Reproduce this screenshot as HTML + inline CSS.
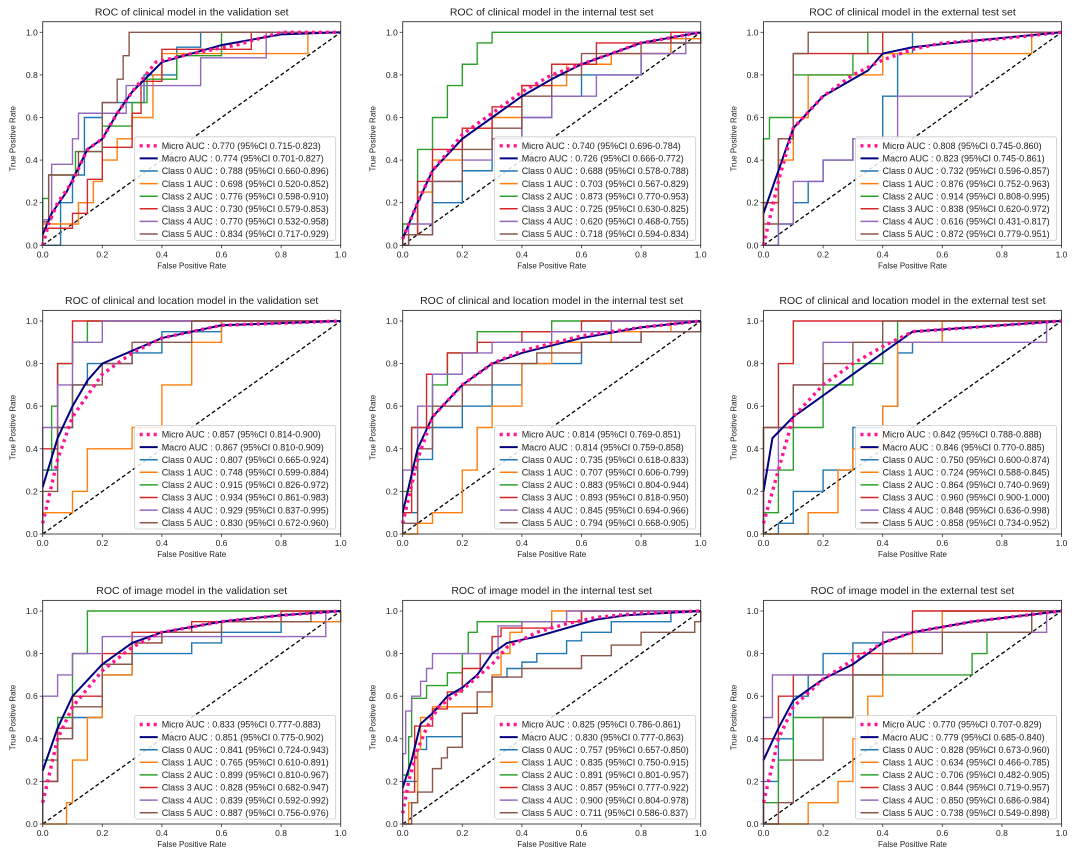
<!DOCTYPE html>
<html><head><meta charset="utf-8">
<style>
html,body{margin:0;padding:0;background:#fff;}
svg{display:block;font-family:"Liberation Sans","DejaVu Sans",sans-serif;}
</style></head>
<body>
<svg id="fig" width="1080" height="855" viewBox="0 0 1080 855" xmlns="http://www.w3.org/2000/svg"></svg>
<script>
const titles = [
 "ROC of clinical model in the validation set","ROC of clinical model in the internal test set","ROC of clinical model in the external test set",
 "ROC of clinical and location model in the validation set","ROC of  clinical and location model in the internal test set","ROC of  clinical and location model in the external test set",
 "ROC of image model in the validation set","ROC of image model in the internal test set","ROC of image model in the external test set"];
const seriesNames = ["Micro","Macro","Class 0","Class 1","Class 2","Class 3","Class 4","Class 5"];
const aucLabels = [
 ["0.770 (95%CI 0.715-0.823)","0.774 (95%CI 0.701-0.827)","0.788 (95%CI 0.660-0.896)","0.698 (95%CI 0.520-0.852)","0.776 (95%CI 0.598-0.910)","0.730 (95%CI 0.579-0.853)","0.770 (95%CI 0.532-0.958)","0.834 (95%CI 0.717-0.929)"],
 ["0.740 (95%CI 0.696-0.784)","0.726 (95%CI 0.666-0.772)","0.688 (95%CI 0.578-0.788)","0.703 (95%CI 0.567-0.829)","0.873 (95%CI 0.770-0.953)","0.725 (95%CI 0.630-0.825)","0.620 (95%CI 0.468-0.755)","0.718 (95%CI 0.594-0.834)"],
 ["0.808 (95%CI 0.745-0.860)","0.823 (95%CI 0.745-0.861)","0.732 (95%CI 0.596-0.857)","0.876 (95%CI 0.752-0.963)","0.914 (95%CI 0.808-0.995)","0.838 (95%CI 0.620-0.972)","0.616 (95%CI 0.431-0.817)","0.872 (95%CI 0.779-0.951)"],
 ["0.857 (95%CI 0.814-0.900)","0.867 (95%CI 0.810-0.909)","0.807 (95%CI 0.665-0.924)","0.748 (95%CI 0.599-0.884)","0.915 (95%CI 0.826-0.972)","0.934 (95%CI 0.861-0.983)","0.929 (95%CI 0.837-0.995)","0.830 (95%CI 0.672-0.960)"],
 ["0.814 (95%CI 0.769-0.851)","0.814 (95%CI 0.759-0.858)","0.735 (95%CI 0.618-0.833)","0.707 (95%CI 0.606-0.799)","0.883 (95%CI 0.804-0.944)","0.893 (95%CI 0.818-0.950)","0.845 (95%CI 0.694-0.966)","0.794 (95%CI 0.668-0.905)"],
 ["0.842 (95%CI 0.788-0.888)","0.846 (95%CI 0.770-0.885)","0.750 (95%CI 0.600-0.874)","0.724 (95%CI 0.588-0.845)","0.864 (95%CI 0.740-0.969)","0.960 (95%CI 0.900-1.000)","0.848 (95%CI 0.636-0.998)","0.858 (95%CI 0.734-0.952)"],
 ["0.833 (95%CI 0.777-0.883)","0.851 (95%CI 0.775-0.902)","0.841 (95%CI 0.724-0.943)","0.765 (95%CI 0.610-0.891)","0.899 (95%CI 0.810-0.967)","0.828 (95%CI 0.682-0.947)","0.839 (95%CI 0.592-0.992)","0.887 (95%CI 0.756-0.976)"],
 ["0.825 (95%CI 0.786-0.861)","0.830 (95%CI 0.777-0.863)","0.757 (95%CI 0.657-0.850)","0.835 (95%CI 0.750-0.915)","0.891 (95%CI 0.801-0.957)","0.857 (95%CI 0.777-0.922)","0.900 (95%CI 0.804-0.978)","0.711 (95%CI 0.586-0.837)"],
 ["0.770 (95%CI 0.707-0.829)","0.779 (95%CI 0.685-0.840)","0.828 (95%CI 0.673-0.960)","0.634 (95%CI 0.466-0.785)","0.706 (95%CI 0.482-0.905)","0.844 (95%CI 0.719-0.957)","0.850 (95%CI 0.686-0.984)","0.738 (95%CI 0.549-0.898)"]];
const tickLabels = ["0.0","0.2","0.4","0.6","0.8","1.0"];
const micro = [
 [[0,0],[0.02,0.1],[0.05,0.2],[0.1,0.3],[0.15,0.45],[0.2,0.5],[0.25,0.62],[0.3,0.72],[0.38,0.86],[0.5,0.9],[0.65,0.94],[0.8,1],[1,1]],
 [[0,0.03],[0.05,0.2],[0.1,0.35],[0.2,0.52],[0.3,0.62],[0.4,0.72],[0.5,0.8],[0.6,0.85],[0.8,0.95],[1,1]],
 [[0,0],[0.05,0.3],[0.1,0.55],[0.2,0.7],[0.3,0.8],[0.4,0.87],[0.5,0.92],[0.6,0.95],[0.8,0.97],[1,1]],
 [[0,0.05],[0.05,0.35],[0.1,0.55],[0.2,0.75],[0.3,0.85],[0.4,0.92],[0.6,0.98],[1,1]],
 [[0,0.05],[0.05,0.35],[0.1,0.55],[0.2,0.7],[0.3,0.8],[0.4,0.86],[0.6,0.93],[0.8,0.97],[1,1]],
 [[0,0.05],[0.05,0.3],[0.1,0.55],[0.2,0.7],[0.3,0.8],[0.4,0.88],[0.5,0.95],[1,1]],
 [[0,0.1],[0.05,0.4],[0.1,0.55],[0.2,0.72],[0.3,0.83],[0.4,0.9],[0.6,0.95],[0.8,0.98],[1,1]],
 [[0,0.05],[0.02,0.2],[0.05,0.35],[0.08,0.45],[0.12,0.55],[0.2,0.63],[0.3,0.75],[0.35,0.83],[0.45,0.9],[0.55,0.94],[0.65,0.97],[0.8,0.99],[1,1]],
 [[0,0.1],[0.05,0.4],[0.1,0.55],[0.2,0.68],[0.3,0.77],[0.4,0.85],[0.5,0.9],[0.7,0.95],[1,1]]];
const macro = [
 [[0,0.05],[0.03,0.15],[0.08,0.25],[0.15,0.45],[0.2,0.5],[0.25,0.62],[0.3,0.72],[0.4,0.86],[0.5,0.9],[0.6,0.94],[0.8,0.99],[1,1]],
 [[0,0.03],[0.05,0.2],[0.1,0.35],[0.2,0.5],[0.3,0.6],[0.4,0.7],[0.5,0.78],[0.6,0.85],[0.8,0.95],[1,1]],
 [[0,0.15],[0.05,0.35],[0.1,0.55],[0.2,0.7],[0.3,0.78],[0.35,0.82],[0.4,0.9],[0.5,0.93],[0.7,0.96],[1,1]],
 [[0,0.22],[0.05,0.45],[0.1,0.6],[0.15,0.72],[0.2,0.8],[0.3,0.86],[0.4,0.92],[0.6,0.98],[1,1]],
 [[0,0.1],[0.05,0.4],[0.1,0.55],[0.2,0.7],[0.3,0.8],[0.4,0.85],[0.6,0.92],[0.8,0.97],[1,1]],
 [[0,0.2],[0.03,0.45],[0.1,0.55],[0.2,0.65],[0.3,0.75],[0.4,0.85],[0.5,0.95],[1,1]],
 [[0,0.25],[0.05,0.45],[0.1,0.6],[0.2,0.75],[0.3,0.85],[0.4,0.9],[0.6,0.95],[0.8,0.98],[1,1]],
 [[0,0.17],[0.03,0.3],[0.06,0.47],[0.1,0.52],[0.15,0.6],[0.2,0.64],[0.25,0.7],[0.3,0.8],[0.35,0.85],[0.45,0.88],[0.55,0.92],[0.65,0.96],[0.75,0.98],[1,1]],
 [[0,0.3],[0.05,0.45],[0.1,0.58],[0.2,0.68],[0.3,0.75],[0.4,0.85],[0.5,0.9],[0.7,0.95],[1,1]]];
const classCurves = [
 [[[0.06,0],[0.06,0.2],[0.1,0.33],[0.14,0.6],[0.2,0.67],[0.3,0.67],[0.34,0.8],[0.45,0.93],[0.53,1],[1,1]],
  [[0,0.1],[0.12,0.2],[0.17,0.3],[0.2,0.4],[0.25,0.5],[0.3,0.6],[0.37,0.8],[0.4,0.9],[0.89,1],[1,1]],
  [[0,0.22],[0.02,0.33],[0.11,0.44],[0.2,0.56],[0.3,0.67],[0.35,0.78],[0.45,0.89],[0.6,1],[1,1]],
  [[0,0.08],[0.1,0.15],[0.15,0.31],[0.2,0.46],[0.3,0.62],[0.33,0.77],[0.4,0.92],[0.7,1],[1,1]],
  [[0,0.12],[0.03,0.38],[0.1,0.5],[0.12,0.62],[0.2,0.62],[0.28,0.75],[0.53,0.88],[0.75,1],[1,1]],
  [[0,0.11],[0.02,0.33],[0.12,0.44],[0.2,0.67],[0.25,0.78],[0.27,0.89],[0.29,1],[1,1]]],
 [[[0.02,0.05],[0.1,0.2],[0.2,0.35],[0.3,0.5],[0.4,0.6],[0.5,0.7],[0.6,0.8],[0.8,0.9],[0.9,0.95],[1,1]],
  [[0,0.05],[0.05,0.25],[0.1,0.4],[0.2,0.55],[0.3,0.6],[0.4,0.75],[0.55,0.85],[0.7,0.9],[0.9,0.97],[1,1]],
  [[0,0.1],[0.05,0.45],[0.1,0.6],[0.15,0.75],[0.2,0.85],[0.25,0.95],[0.3,1],[1,1]],
  [[0,0.05],[0.05,0.3],[0.1,0.45],[0.2,0.55],[0.3,0.65],[0.4,0.75],[0.5,0.85],[0.65,0.95],[0.9,1],[1,1]],
  [[0.02,0.1],[0.1,0.3],[0.2,0.4],[0.3,0.5],[0.4,0.6],[0.5,0.7],[0.65,0.8],[0.8,0.9],[0.95,1],[1,1]],
  [[0.02,0.05],[0.1,0.3],[0.2,0.45],[0.3,0.55],[0.4,0.7],[0.5,0.8],[0.6,0.9],[0.8,0.95],[1,1]]],
 [[[0.05,0.1],[0.1,0.2],[0.15,0.3],[0.2,0.4],[0.3,0.5],[0.4,0.7],[0.45,0.9],[0.5,1],[1,1]],
  [[0,0.2],[0.05,0.4],[0.1,0.6],[0.15,0.8],[0.4,0.9],[0.9,1],[1,1]],
  [[0,0.5],[0.02,0.6],[0.1,0.8],[0.3,0.9],[0.35,1],[1,1]],
  [[0,0.2],[0.05,0.5],[0.1,0.9],[0.4,1],[1,1]],
  [[0.05,0.1],[0.1,0.3],[0.2,0.4],[0.3,0.5],[0.45,0.7],[0.7,1],[1,1]],
  [[0,0.1],[0.05,0.5],[0.1,0.9],[0.15,1],[1,1]]],
 [[[0,0.3],[0.05,0.5],[0.1,0.7],[0.15,0.8],[0.3,0.85],[0.4,0.95],[0.6,1],[1,1]],
  [[0,0.1],[0.1,0.2],[0.15,0.4],[0.3,0.5],[0.4,0.7],[0.5,0.9],[0.6,1],[1,1]],
  [[0,0.3],[0.03,0.6],[0.05,0.8],[0.1,0.9],[0.15,1],[1,1]],
  [[0,0.4],[0.05,0.8],[0.1,1],[1,1]],
  [[0,0.5],[0.05,0.7],[0.1,0.9],[0.2,1],[1,1]],
  [[0,0.2],[0.05,0.5],[0.1,0.7],[0.2,0.8],[0.3,0.9],[0.5,1],[1,1]]],
 [[[0,0.1],[0.05,0.35],[0.1,0.5],[0.2,0.6],[0.3,0.7],[0.4,0.8],[0.6,0.9],[0.8,0.95],[1,1]],
  [[0.05,0.05],[0.1,0.1],[0.2,0.3],[0.25,0.5],[0.3,0.6],[0.4,0.8],[0.5,0.9],[0.7,0.95],[0.9,1],[1,1]],
  [[0,0.2],[0.03,0.5],[0.1,0.7],[0.15,0.85],[0.25,0.95],[0.5,1],[1,1]],
  [[0,0.1],[0.03,0.5],[0.08,0.75],[0.15,0.85],[0.25,0.9],[0.4,0.95],[0.6,1],[1,1]],
  [[0,0.3],[0.05,0.6],[0.1,0.75],[0.2,0.85],[0.3,0.9],[0.5,0.95],[0.7,1],[1,1]],
  [[0,0.05],[0.05,0.4],[0.1,0.6],[0.2,0.7],[0.3,0.8],[0.45,0.85],[0.6,0.9],[0.8,0.95],[1,1]]],
 [[[0.05,0.05],[0.1,0.2],[0.2,0.3],[0.3,0.5],[0.4,0.6],[0.45,0.85],[0.5,0.9],[0.6,1],[1,1]],
  [[0.1,0],[0.15,0.1],[0.25,0.3],[0.3,0.4],[0.4,0.6],[0.45,0.9],[0.6,1],[1,1]],
  [[0,0.1],[0.05,0.3],[0.1,0.5],[0.2,0.7],[0.3,0.8],[0.4,0.9],[0.45,1],[1,1]],
  [[0,0.5],[0.05,0.8],[0.1,1],[1,1]],
  [[0,0.3],[0.05,0.5],[0.1,0.7],[0.2,0.9],[0.95,1],[1,1]],
  [[0,0.5],[0.1,0.7],[0.2,0.8],[0.3,0.9],[0.4,1],[1,1]]],
 [[[0,0.2],[0.05,0.4],[0.1,0.5],[0.2,0.7],[0.3,0.8],[0.5,0.85],[0.6,0.9],[0.8,0.95],[1,1]],
  [[0.05,0],[0.08,0.1],[0.1,0.3],[0.15,0.5],[0.2,0.7],[0.3,0.85],[0.4,0.9],[0.6,0.95],[1,1]],
  [[0,0.3],[0.05,0.5],[0.1,0.8],[0.15,1],[1,1]],
  [[0,0.2],[0.05,0.45],[0.1,0.6],[0.2,0.8],[0.3,0.9],[0.5,0.95],[0.8,1],[1,1]],
  [[0,0.6],[0.05,0.7],[0.1,0.8],[0.2,0.88],[0.95,1],[1,1]],
  [[0,0.2],[0.05,0.4],[0.1,0.55],[0.2,0.75],[0.3,0.85],[0.4,0.9],[0.6,0.95],[0.9,1],[1,1]]],
 [[[0,0.2],[0.05,0.35],[0.08,0.41],[0.2,0.52],[0.25,0.55],[0.3,0.69],[0.35,0.73],[0.4,0.76],[0.45,0.8],[0.55,0.86],[0.6,0.9],[0.7,0.95],[0.9,1],[1,1]],
  [[0.02,0.1],[0.05,0.35],[0.06,0.5],[0.1,0.55],[0.25,0.55],[0.3,0.7],[0.33,0.8],[0.36,0.9],[0.4,0.95],[0.5,1],[1,1]],
  [[0,0.23],[0.02,0.41],[0.03,0.59],[0.08,0.65],[0.15,0.71],[0.2,0.8],[0.22,0.9],[0.25,0.95],[0.6,1],[1,1]],
  [[0,0.15],[0.04,0.46],[0.1,0.54],[0.15,0.62],[0.2,0.73],[0.26,0.8],[0.3,0.88],[0.33,0.92],[0.5,0.95],[0.6,1],[1,1]],
  [[0,0.33],[0.01,0.53],[0.03,0.6],[0.06,0.67],[0.08,0.73],[0.1,0.8],[0.32,0.93],[0.4,0.95],[0.55,1],[1,1]],
  [[0.03,0.1],[0.05,0.15],[0.1,0.26],[0.13,0.31],[0.15,0.36],[0.2,0.52],[0.25,0.62],[0.3,0.69],[0.4,0.73],[0.6,0.79],[0.7,0.84],[0.8,0.9],[0.98,0.95],[1,1]]],
 [[[0,0.2],[0.05,0.4],[0.1,0.6],[0.15,0.7],[0.2,0.8],[0.3,0.85],[0.4,0.9],[0.6,1],[1,1]],
  [[0.1,0],[0.15,0.1],[0.25,0.2],[0.3,0.4],[0.35,0.6],[0.4,0.8],[0.5,0.9],[0.6,1],[1,1]],
  [[0,0.1],[0.05,0.3],[0.1,0.5],[0.3,0.7],[0.7,0.8],[0.75,0.9],[0.9,1],[1,1]],
  [[0,0.4],[0.05,0.6],[0.1,0.7],[0.3,0.8],[0.4,0.9],[0.5,1],[1,1]],
  [[0,0.5],[0.03,0.7],[0.4,0.9],[0.95,1],[1,1]],
  [[0.05,0.1],[0.1,0.3],[0.2,0.5],[0.3,0.7],[0.4,0.8],[0.6,0.9],[0.9,1],[1,1]]]];

const classColors = ["#1f77b4","#ff7f0e","#2ca02c","#d62728","#9467bd","#8c564b"];
const NS = "http://www.w3.org/2000/svg";
const svg = document.getElementById("fig");
const colX = [42.7, 402.7, 763.5], rowY = [32.3, 321, 611], W = 298, H = 213;
function mk(tag, attrs, parent){const e=document.createElementNS(NS,tag);for(const k in attrs)e.setAttribute(k,attrs[k]);parent.appendChild(e);return e;}

for (let p = 0; p < 9; p++) {
  const x0 = colX[p % 3], y1 = rowY[Math.floor(p / 3)], y0 = y1 + H;
  const sx = v => x0 + v * W, sy = v => y0 - v * H;
  const g = mk("g", {}, svg);
  
  
  const t = mk("text", {x: x0 + W / 2, y: y1 - 17, "text-anchor": "middle", "font-size": "10.5", fill: "#222"}, g);
  t.textContent = titles[p];
  
  
  const d = mk("line", {x1: sx(0), y1: sy(0), x2: sx(1), y2: sy(1), stroke: "#000", "stroke-width": 1.3, "stroke-dasharray": "4,2.5"}, g);
  
  
  classCurves[p].forEach((pts, c) => {
    let dd = "M" + sx(0) + "," + sy(0);
    pts.forEach(([fx, ty]) => { dd += " H" + sx(fx) + " V" + sy(ty); });
    const path = mk("path", {d: dd, fill: "none", stroke: classColors[c], "stroke-width": 1.4}, g);
    
    
  });
  const lineStr = pts => pts.map(([fx, ty]) => sx(fx) + "," + sy(ty)).join(" ");
  const mac = mk("polyline", {points: lineStr(macro[p]), fill: "none", stroke: "#000080", "stroke-width": 2}, g);
  
  
  const mic = mk("polyline", {points: lineStr(micro[p]), fill: "none", stroke: "#ff1493", "stroke-width": 3.4, "stroke-dasharray": "3,4"}, g);
  
  
  const fr = mk("rect", {x: x0, y: y1 - 10.6, width: W, height: H + 10.6, fill: "none", stroke: "#333", "stroke-width": 0.9}, g);
  
  
  tickLabels.forEach((lab, i) => {
    const v = i / 5;
    mk("line", {x1: sx(v), y1: y0, x2: sx(v), y2: y0 + 3, stroke: "#333", "stroke-width": 0.8}, g);
    const tx = mk("text", {x: sx(v), y: y0 + 12, "text-anchor": "middle", "font-size": "8.5", fill: "#222"}, g);
    tx.textContent = lab;
    
    
    mk("line", {x1: x0 - 3, y1: sy(v), x2: x0, y2: sy(v), stroke: "#333", "stroke-width": 0.8}, g);
    const ty = mk("text", {x: x0 - 5, y: sy(v) + 3, "text-anchor": "end", "font-size": "8.5", fill: "#222"}, g);
    ty.textContent = lab;
    
    
  });
  const xl = mk("text", {x: x0 + W / 2, y: y0 + 23, "text-anchor": "middle", "font-size": "8", fill: "#222"}, g);
  xl.textContent = "False Positive Rate";
  
  
  const yl = mk("text", {x: 0, y: 0, "text-anchor": "middle", "font-size": "8", fill: "#222", transform: "translate(" + (x0 - 27) + "," + (y0 - H / 2) + ") rotate(-90)"}, g);
  yl.textContent = "True Positive Rate";
  
  
  const lx = x0 + 92, ly = y0 - 108.5;
  const lg = mk("g", {}, g);
  
  
  mk("rect", {x: lx, y: ly, width: 201, height: 103.5, fill: "#fff", "fill-opacity": 0.85, stroke: "#ccc", "stroke-width": 0.8, rx: 2}, lg);
  seriesNames.forEach((nm, i) => {
    const yy = ly + 9 + i * 12.6;
    const col = i === 0 ? "#ff1493" : i === 1 ? "#000080" : classColors[i - 2];
    const hl = mk("line", {x1: lx + 5, y1: yy, x2: lx + 23, y2: yy, stroke: col, "stroke-width": i === 0 ? 3.4 : i === 1 ? 2 : 1.5}, lg);
    if (i === 0) hl.setAttribute("stroke-dasharray", "3,4");
    const tt = mk("text", {x: lx + 27, y: yy + 3.2, "font-size": "9", fill: "#222"}, lg);
    tt.textContent = nm + " AUC : " + aucLabels[p][i];
    
    
  });
}
</script>
</body></html>
